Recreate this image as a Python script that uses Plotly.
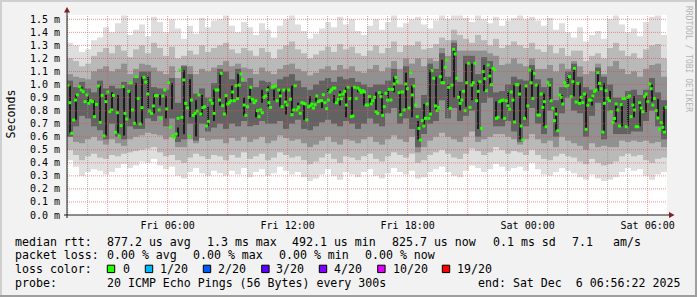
import numpy as np
import pandas as pd
import plotly.graph_objects as go

# ---------------- data (milliseconds) ----------------
START = pd.Timestamp("2025-12-05 00:58:00")
END = pd.Timestamp("2025-12-06 06:58:00")
BLOCK_MIN = 450          # each median block covers 7.5 hours
COL_MIN = 18             # smoke column width in minutes

median_block1 = [0.994, 0.861, 0.626, 0.728, 0.881, 0.920, 0.984, 0.958, 0.945, 0.869,
                 0.920, 0.856, 0.876, 0.869, 0.754, 0.848, 0.989, 0.710, 0.917, 0.606,
                 0.869, 0.943, 0.792, 0.805, 0.917, 0.634, 0.784, 0.606, 0.685, 0.984,
                 0.779, 0.736, 0.948, 1.014, 0.805, 0.703, 1.060, 0.894, 0.698, 0.823,
                 1.055, 1.019, 0.927, 0.797, 0.779, 0.836, 0.915, 0.915, 0.805, 0.741,
                 0.912, 0.958, 0.813, 1.014, 0.672, 0.606, 0.595, 0.621, 0.741, 1.111,
                 0.749, 1.035, 0.856, 0.820, 0.600, 0.881, 0.764, 0.779, 0.797, 0.920,
                 0.774, 0.823, 0.830, 0.682, 0.718, 0.881, 0.856, 0.779, 0.958]
median_block2 = [0.958, 0.881, 1.086, 0.838, 0.774, 0.915, 0.851, 0.861, 0.876, 0.943,
                 0.876, 0.991, 0.892, 0.996, 1.081, 1.040, 0.843, 0.764, 0.830, 0.902,
                 0.979, 0.887, 0.861, 0.876, 0.800, 0.754, 0.805, 0.784, 0.902, 0.912,
                 0.958, 0.861, 0.825, 0.979, 0.984, 0.989, 0.876, 0.958, 0.912, 0.830,
                 0.958, 0.866, 0.843, 0.958, 0.887, 0.769, 0.805, 0.991, 0.805, 0.825,
                 0.779, 0.861, 0.856, 0.851, 0.728, 0.830, 0.836, 0.851, 0.820, 0.846,
                 0.912, 0.869, 0.876, 0.876, 0.922, 0.861, 0.815, 0.881, 0.943, 0.958,
                 0.973, 0.973, 0.861, 0.887, 0.920, 0.892, 0.927, 0.948, 0.843, 0.979,
                 0.892, 0.754, 0.759, 0.979, 0.894, 0.973, 0.958, 0.940, 0.953, 0.943, 0.843]
median_block3 = [0.843, 0.907, 0.851, 0.876, 0.902, 0.792, 0.779, 0.938, 0.907, 0.764,
                 0.830, 0.933, 0.881, 0.963, 0.881, 0.963, 1.004, 1.055, 1.022, 0.938,
                 0.769, 0.943, 0.805, 1.004, 0.968, 0.820, 1.091, 0.920, 0.989, 0.843,
                 0.754, 0.664, 0.575, 0.723, 0.682, 0.741, 0.851, 0.741, 0.774, 1.106,
                 1.048, 0.836, 0.800, 0.825, 1.060, 1.014, 1.014, 1.132, 1.188, 0.979,
                 0.818, 0.996, 1.270, 1.234, 1.048, 0.902, 0.856, 0.881, 0.948, 0.800,
                 1.014, 1.163, 0.825, 0.996, 1.014, 1.163, 0.876, 0.948, 1.022, 0.664,
                 1.099, 1.045, 0.953, 1.150, 1.065, 0.999, 1.124, 1.111, 0.741, 0.749,
                 0.869, 0.876, 0.881, 0.741, 0.876, 0.836, 0.810, 0.943, 0.881, 0.713, 0.999]
median_block4 = [0.999, 0.927, 0.682, 0.575, 0.741, 0.989, 0.836, 1.111, 1.014, 0.894,
                 1.086, 0.996, 0.766, 0.766, 0.927, 0.825, 0.869, 0.677, 1.014, 0.996,
                 0.876, 0.818, 0.723, 0.774, 0.646, 0.920, 0.902, 0.851, 1.014, 0.989,
                 0.994, 1.060, 0.907, 1.022, 1.124, 0.866, 1.009, 0.856, 0.902, 0.861,
                 0.927, 0.657, 0.841, 0.881, 0.881, 0.912, 0.948, 0.958, 1.091, 1.009,
                 0.968, 0.636, 0.856, 0.953, 0.894, 0.876, 0.792, 0.708, 0.740, 0.851,
                 0.805, 0.682, 0.846, 0.894, 0.894, 0.677, 0.902, 0.912, 0.754, 0.843,
                 0.805, 0.677, 0.677, 0.861, 0.820, 0.792, 0.907, 0.927, 0.869, 1.004,
                 0.968, 0.843, 0.894, 0.800, 0.744, 0.657, 0.708, 0.672, 0.636, 0.825]

# smoke bands per 18-minute column (100 columns), outer -> inner
smoke1_hi = [1.32, 1.30, 1.25, 1.27, 1.34, 1.36, 1.44, 1.40, 1.47, 1.53, 1.38, 1.42, 1.46, 1.37, 1.52, 1.48, 1.40, 1.50, 1.43, 1.35, 1.45, 1.39, 1.51, 1.44, 1.49,
             1.50, 1.53, 1.45, 1.40, 1.48, 1.44, 1.38, 1.47, 1.42, 1.36, 1.45, 1.50, 1.53, 1.46, 1.41, 1.35, 1.39, 1.43, 1.48, 1.44, 1.52, 1.46, 1.50, 1.41, 1.38,
             1.45, 1.50, 1.42, 1.48, 1.53, 1.44, 1.47, 1.50, 1.52, 1.46, 1.43, 1.49, 1.53, 1.50, 1.53, 1.53, 1.51, 1.48, 1.53, 1.50, 1.47, 1.52, 1.45, 1.49, 1.51,
             1.53, 1.50, 1.52, 1.49, 1.45, 1.51, 1.42, 1.47, 1.40, 1.36, 1.44, 1.33, 1.38, 1.41, 1.35, 1.50, 1.53, 1.46, 1.40, 1.43, 1.37, 1.48, 1.52, 1.53, 1.38]
smoke1_lo = [0.42, 0.37, 0.30, 0.33, 0.35, 0.34, 0.31, 0.33, 0.36, 0.39, 0.36, 0.38, 0.41, 0.40, 0.43, 0.38, 0.35, 0.37, 0.30, 0.28, 0.33, 0.36, 0.32, 0.30, 0.34,
             0.32, 0.30, 0.34, 0.31, 0.36, 0.29, 0.33, 0.35, 0.30, 0.32, 0.37, 0.34, 0.31, 0.33, 0.29, 0.26, 0.28, 0.31, 0.35, 0.30, 0.27, 0.33, 0.31, 0.29, 0.33,
             0.35, 0.30, 0.28, 0.32, 0.36, 0.33, 0.31, 0.34, 0.28, 0.29, 0.33, 0.35, 0.37, 0.33, 0.30, 0.29, 0.34, 0.38, 0.36, 0.33, 0.35, 0.39, 0.37, 0.34, 0.36,
             0.37, 0.34, 0.40, 0.35, 0.31, 0.30, 0.33, 0.36, 0.34, 0.32, 0.29, 0.27, 0.31, 0.28, 0.26, 0.27, 0.29, 0.33, 0.36, 0.34, 0.35, 0.30, 0.27, 0.31, 0.33]
smoke2_hi = [1.20, 1.18, 1.14, 1.16, 1.22, 1.25, 1.28, 1.24, 1.30, 1.26, 1.21, 1.27, 1.30, 1.24, 1.32, 1.28, 1.22, 1.29, 1.20, 1.22, 1.26, 1.23, 1.30, 1.25, 1.28,
             1.30, 1.32, 1.27, 1.24, 1.28, 1.26, 1.22, 1.28, 1.25, 1.20, 1.27, 1.30, 1.33, 1.27, 1.24, 1.20, 1.23, 1.26, 1.29, 1.25, 1.31, 1.27, 1.29, 1.24, 1.22,
             1.26, 1.30, 1.24, 1.28, 1.33, 1.25, 1.30, 1.30, 1.33, 1.27, 1.28, 1.31, 1.36, 1.34, 1.42, 1.38, 1.35, 1.32, 1.38, 1.34, 1.30, 1.35, 1.28, 1.30, 1.33,
             1.30, 1.28, 1.32, 1.27, 1.25, 1.30, 1.24, 1.28, 1.22, 1.26, 1.26, 1.18, 1.22, 1.24, 1.20, 1.28, 1.32, 1.26, 1.22, 1.24, 1.20, 1.27, 1.30, 1.31, 1.20]
smoke2_lo = [0.50, 0.46, 0.42, 0.45, 0.47, 0.44, 0.43, 0.46, 0.45, 0.47, 0.48, 0.49, 0.50, 0.51, 0.52, 0.48, 0.45, 0.46, 0.42, 0.40, 0.44, 0.47, 0.45, 0.43, 0.46,
             0.45, 0.42, 0.46, 0.44, 0.48, 0.43, 0.45, 0.47, 0.42, 0.44, 0.48, 0.46, 0.44, 0.45, 0.42, 0.39, 0.41, 0.44, 0.47, 0.43, 0.40, 0.45, 0.44, 0.42, 0.45,
             0.47, 0.43, 0.41, 0.45, 0.48, 0.46, 0.44, 0.47, 0.40, 0.42, 0.46, 0.48, 0.50, 0.47, 0.44, 0.43, 0.47, 0.51, 0.49, 0.46, 0.48, 0.52, 0.50, 0.47, 0.49,
             0.48, 0.46, 0.50, 0.46, 0.43, 0.42, 0.45, 0.47, 0.45, 0.44, 0.41, 0.39, 0.43, 0.40, 0.38, 0.39, 0.41, 0.45, 0.47, 0.45, 0.46, 0.42, 0.40, 0.43, 0.44]
smoke3_hi = [1.08, 1.06, 1.05, 1.04, 1.10, 1.12, 1.14, 1.10, 1.12, 1.16, 1.08, 1.12, 1.16, 1.15, 1.13, 1.10, 1.08, 1.14, 1.05, 1.15, 1.14, 1.08, 1.12, 1.10, 1.13,
             1.15, 1.18, 1.14, 1.16, 1.13, 1.12, 1.08, 1.13, 1.10, 1.08, 1.12, 1.15, 1.16, 1.12, 1.10, 1.07, 1.09, 1.12, 1.14, 1.11, 1.15, 1.12, 1.14, 1.10, 1.09,
             1.12, 1.15, 1.10, 1.13, 1.18, 1.12, 1.20, 1.16, 1.20, 1.14, 1.20, 1.18, 1.28, 1.22, 1.34, 1.26, 1.26, 1.26, 1.26, 1.26, 1.24, 1.22, 1.15, 1.16, 1.20,
             1.16, 1.14, 1.20, 1.12, 1.12, 1.15, 1.10, 1.16, 1.12, 1.18, 1.14, 1.08, 1.10, 1.16, 1.08, 1.14, 1.18, 1.12, 1.08, 1.10, 1.06, 1.12, 1.15, 1.16, 1.06]
smoke3_lo = [0.60, 0.56, 0.55, 0.58, 0.60, 0.57, 0.54, 0.58, 0.55, 0.53, 0.58, 0.60, 0.61, 0.63, 0.62, 0.61, 0.58, 0.60, 0.52, 0.52, 0.58, 0.55, 0.59, 0.57, 0.58,
             0.58, 0.55, 0.59, 0.57, 0.60, 0.56, 0.58, 0.60, 0.55, 0.57, 0.61, 0.59, 0.57, 0.58, 0.55, 0.52, 0.54, 0.57, 0.60, 0.56, 0.54, 0.58, 0.57, 0.55, 0.58,
             0.60, 0.56, 0.54, 0.58, 0.61, 0.58, 0.56, 0.60, 0.48, 0.52, 0.57, 0.60, 0.63, 0.60, 0.58, 0.56, 0.60, 0.64, 0.56, 0.58, 0.60, 0.62, 0.62, 0.60, 0.58,
             0.54, 0.58, 0.62, 0.58, 0.55, 0.57, 0.52, 0.60, 0.57, 0.55, 0.53, 0.50, 0.55, 0.52, 0.53, 0.52, 0.52, 0.57, 0.56, 0.57, 0.56, 0.57, 0.55, 0.56, 0.52]
smoke4_hi = [1.03, 0.98, 1.02, 0.97, 0.94, 1.03, 0.97, 0.99, 0.97, 1.02, 1.00, 1.05, 1.10, 1.10, 0.98, 0.97, 0.96, 1.05, 0.86, 1.14, 1.08, 0.93, 0.97, 0.90, 1.01,
             1.12, 1.10, 1.04, 1.12, 1.02, 1.05, 0.98, 1.03, 1.02, 0.98, 1.04, 1.06, 1.08, 1.03, 0.98, 0.96, 1.00, 1.03, 1.05, 1.02, 1.06, 1.04, 1.05, 1.02, 1.00,
             0.98, 1.00, 1.00, 1.03, 1.12, 1.00, 1.14, 1.05, 0.82, 0.92, 1.16, 1.12, 1.24, 1.06, 1.32, 1.02, 1.22, 1.22, 1.08, 1.21, 1.18, 0.94, 0.95, 1.00, 1.06,
             1.04, 1.03, 1.15, 1.04, 0.98, 1.05, 0.88, 0.98, 1.10, 1.16, 1.06, 0.98, 0.96, 1.13, 1.06, 1.00, 0.90, 0.90, 0.95, 0.96, 0.92, 0.96, 1.05, 0.94, 0.88]
smoke4_lo = [0.60, 0.68, 0.76, 0.74, 0.68, 0.65, 0.58, 0.70, 0.60, 0.58, 0.68, 0.66, 0.66, 0.74, 0.72, 0.76, 0.68, 0.74, 0.56, 0.58, 0.70, 0.57, 0.70, 0.64, 0.67,
             0.70, 0.66, 0.70, 0.68, 0.72, 0.68, 0.69, 0.72, 0.70, 0.70, 0.72, 0.66, 0.70, 0.73, 0.66, 0.65, 0.68, 0.71, 0.73, 0.70, 0.68, 0.72, 0.70, 0.66, 0.70,
             0.74, 0.70, 0.68, 0.78, 0.82, 0.70, 0.74, 0.66, 0.52, 0.62, 0.70, 0.72, 0.88, 0.74, 0.82, 0.72, 0.76, 0.80, 0.60, 0.86, 0.90, 0.68, 0.68, 0.72, 0.64,
             0.56, 0.68, 0.82, 0.70, 0.62, 0.80, 0.60, 0.78, 0.90, 0.80, 0.78, 0.60, 0.76, 0.86, 0.58, 0.80, 0.62, 0.62, 0.62, 0.64, 0.64, 0.72, 0.80, 0.68, 0.58]
core_hi = [0.99, 0.92, 0.98, 0.92, 0.88, 0.99, 0.92, 0.94, 0.92, 0.98, 0.95, 1.01, 1.06, 1.06, 0.93, 0.92, 0.91, 1.01, 0.67, 1.11, 1.04, 0.88, 0.92, 0.83, 0.96,
           1.09, 0.92, 0.99, 1.08, 0.90, 0.98, 0.81, 0.96, 0.99, 0.96, 0.96, 0.96, 0.99, 0.86, 0.85, 0.91, 0.92, 0.88, 0.97, 0.92, 0.95, 0.98, 0.98, 0.97, 0.95,
           0.91, 0.94, 0.93, 0.96, 1.06, 0.94, 1.09, 0.99, 0.72, 0.85, 1.11, 1.06, 1.19, 1.00, 1.27, 0.95, 1.16, 1.16, 1.02, 1.15, 1.12, 0.87, 0.88, 0.94, 1.00,
           1.00, 0.99, 1.11, 1.00, 0.93, 1.01, 0.82, 0.92, 1.06, 1.12, 1.01, 0.93, 0.91, 1.09, 1.01, 0.95, 0.85, 0.85, 0.90, 0.91, 0.86, 0.91, 1.00, 0.89, 0.83]
core_lo = [0.63, 0.73, 0.94, 0.86, 0.75, 0.71, 0.61, 0.79, 0.63, 0.61, 0.74, 0.70, 0.70, 0.82, 0.78, 0.84, 0.74, 0.81, 0.60, 0.62, 0.75, 0.60, 0.76, 0.68, 0.72,
           0.84, 0.77, 0.88, 0.89, 0.76, 0.86, 0.75, 0.86, 0.83, 0.88, 0.83, 0.77, 0.78, 0.85, 0.73, 0.82, 0.87, 0.82, 0.94, 0.86, 0.84, 0.75, 0.76, 0.94, 0.84,
           0.84, 0.78, 0.76, 0.88, 0.94, 0.77, 0.82, 0.75, 0.58, 0.68, 0.77, 0.80, 1.01, 0.82, 0.90, 0.80, 0.83, 0.88, 0.66, 0.95, 1.00, 0.74, 0.74, 0.81, 0.71,
           0.58, 0.74, 0.89, 0.77, 0.68, 0.88, 0.65, 0.85, 0.99, 0.91, 0.86, 0.66, 0.84, 0.95, 0.64, 0.88, 0.71, 0.68, 0.68, 0.75, 0.68, 0.79, 0.87, 0.74, 0.64]

y_ticks = [0.0, 0.1, 0.2, 0.3, 0.4, 0.5, 0.6, 0.7, 0.8, 0.9, 1.0, 1.1, 1.2, 1.3, 1.4, 1.5]
y_tick_labels = ["%.1f m" % v for v in y_ticks]
x_ticks = ["2025-12-05 06:00", "2025-12-05 12:00", "2025-12-05 18:00", "2025-12-06 00:00", "2025-12-06 06:00"]
x_tick_labels = ["Fri 06:00", "Fri 12:00", "Fri 18:00", "Sat 00:00", "Sat 06:00"]

loss_labels = ["0", "1/20", "2/20", "3/20", "4/20", "10/20", "19/20"]
loss_colors = ["#26ff00", "#00b8ff", "#0059ff", "#5e00ff", "#7e00ff", "#dd00ff", "#ff0000"]

# ---------------- geometry ----------------
W, H = 697, 297
L, T, PW, PH = 67, 15, 600, 200
Y_TOP = 1.533
MONO = "DejaVu Sans Mono"


def px(x):
    return (x - L) / PW


def py(y):
    return (T + PH - y) / PH


col_t = [START + pd.Timedelta(minutes=COL_MIN * (k + 0.5)) for k in range(len(smoke1_hi))]
med_t, med_v = [], []
for b, blk in enumerate([median_block1, median_block2, median_block3, median_block4]):
    step = BLOCK_MIN * 60.0 / len(blk)
    for i, v in enumerate(blk):
        med_t.append(START + pd.Timedelta(seconds=b * BLOCK_MIN * 60 + (i + 0.5) * step))
        med_v.append(v)

fig = go.Figure()
bands = [(smoke1_lo, smoke1_hi, "#dedede"), (smoke2_lo, smoke2_hi, "#b9b9b9"),
         (smoke3_lo, smoke3_hi, "#919191"), (smoke4_lo, smoke4_hi, "#626262")]
for lo, hi, c in bands:
    fig.add_trace(go.Bar(x=col_t, base=lo, y=np.array(hi) - np.array(lo),
                         width=COL_MIN * 60 * 1000, marker=dict(color=c, line=dict(width=0)),
                         hoverinfo="skip", showlegend=False))
fig.add_trace(go.Bar(x=col_t, base=core_lo, y=np.array(core_hi) - np.array(core_lo),
                     width=6 * 60 * 1000, marker=dict(color="#1c1c1c", line=dict(width=0)),
                     hoverinfo="skip", showlegend=False))
fig.add_trace(go.Scatter(x=med_t, y=med_v, mode="markers",
                         marker=dict(symbol="square", size=3, color=loss_colors[0], line=dict(width=0)),
                         hoverinfo="skip", showlegend=False))

shapes = []
# grid lines (on top, like rrdtool)
h = pd.Timestamp("2025-12-05 01:00")
while h <= END:
    major = (h.hour % 3 == 0)
    shapes.append(dict(type="line", xref="x", yref="paper", x0=h, x1=h, y0=0, y1=1,
                       line=dict(color="rgba(222,79,79,0.6)" if major else "rgba(143,143,143,0.75)",
                                 width=1, dash="1px,1px")))
    h += pd.Timedelta(hours=1)
for v in y_ticks[1:]:
    shapes.append(dict(type="line", xref="paper", yref="y", x0=0, x1=1, y0=v, y1=v,
                       line=dict(color="rgba(222,79,79,0.6)", width=1, dash="1px,1px")))
# axes + arrows
shapes.append(dict(type="line", xref="paper", yref="paper", x0=px(64), x1=px(670), y0=0, y1=0,
                   line=dict(color="#1f1f1f", width=1)))
shapes.append(dict(type="line", xref="paper", yref="paper", x0=0, x1=0, y0=py(218), y1=py(11),
                   line=dict(color="#1f1f1f", width=1)))
shapes.append(dict(type="path", xref="paper", yref="paper",
                   path="M %f,%f L %f,%f L %f,%f Z" % (px(669), py(212), px(674.5), py(215), px(669), py(218)),
                   fillcolor="#7f1f1f", line=dict(width=0)))
shapes.append(dict(type="path", xref="paper", yref="paper",
                   path="M %f,%f L %f,%f L %f,%f Z" % (px(64), py(12.5), px(67), py(7), px(70), py(12.5)),
                   fillcolor="#7f1f1f", line=dict(width=0)))


def rect(x0, y0, x1, y1, fill, line=None):
    shapes.append(dict(type="rect", xref="paper", yref="paper",
                       x0=px(x0), x1=px(x1), y0=py(y1), y1=py(y0), fillcolor=fill,
                       line=dict(width=1 if line else 0, color=line or fill), layer="above"))


# frame shading
rect(0, 0, 697, 2, "#cfcfcf")
rect(0, 0, 2, 297, "#cfcfcf")
rect(0, 295, 697, 297, "#9e9e9e")
rect(695, 0, 697, 297, "#9e9e9e")

annotations = []


def txt(s, x, y, size=11.6, color="black", xanchor="left", angle=0):
    annotations.append(dict(text=s.replace(" ", "\u00a0"), x=px(x), y=py(y), xref="paper", yref="paper",
                            xanchor=xanchor, yanchor="middle", showarrow=False, textangle=angle,
                            borderpad=0, borderwidth=0,
                            font=dict(family=MONO, size=size, color=color)))


txt("Seconds", 10.5, 114, angle=-90, xanchor="center")
txt("RRDTOOL / TOBI OETIKER", 688, 59, size=8, color="#b4b4b4", angle=90, xanchor="center")

LY = [241.5, 255.2, 269, 283]
txt("median rtt:", 15.3, LY[0])
for s, x in [("877.2 us avg", 106.6), ("1.3 ms max", 206.6), ("492.1 us min", 292.0),
             ("825.7 us now", 391.8), ("0.1 ms sd", 492.6), ("7.1", 572.0), ("am/s", 613.3)]:
    txt(s, x, LY[0])
txt("packet loss:", 15.3, LY[1])
for s, x in [("0.00 % avg", 106.6), ("0.00 % max", 192.6), ("0.00 % min", 278.6), ("0.00 % now", 364.6)]:
    txt(s, x, LY[1])
txt("loss color:", 15.3, LY[2])
box_x = [107.3, 145.3, 203.3, 261.7, 319.3, 377.7, 442.3]
lab_x = [122.6, 160.3, 218.0, 276.0, 333.6, 392.6, 457.0]
for lab, c, bx, lx in zip(loss_labels, loss_colors, box_x, lab_x):
    rect(bx, 265.2, bx + 7.4, 272.6, c, line="black")
    txt(lab, lx, LY[2])
txt("probe:", 15.3, LY[3])
txt("20 ICMP Echo Pings (56 Bytes) every 300s", 106.6, LY[3])
txt("end: Sat Dec  6 06:56:22 2025", 477.6, LY[3])

fig.update_layout(
    width=W, height=H, margin=dict(l=L, r=W - L - PW, t=T, b=H - T - PH),
    paper_bgcolor="#f2f2f2", plot_bgcolor="#ffffff",
    barmode="overlay", showlegend=False,
    shapes=shapes, annotations=annotations,
    xaxis=dict(type="date", range=[START, END], showgrid=False, zeroline=False, showline=False,
               tickmode="array", tickvals=x_ticks, ticktext=x_tick_labels, ticks="",
               tickfont=dict(family=MONO, size=10, color="black"), ticklabelstandoff=3),
    yaxis=dict(range=[0, Y_TOP], showgrid=False, zeroline=False, showline=False,
               tickmode="array", tickvals=y_ticks, ticktext=y_tick_labels, ticks="",
               tickfont=dict(family=MONO, size=10, color="black"), ticklabelstandoff=6),
)

fig.write_html("out.html", config={"displayModeBar": False})
